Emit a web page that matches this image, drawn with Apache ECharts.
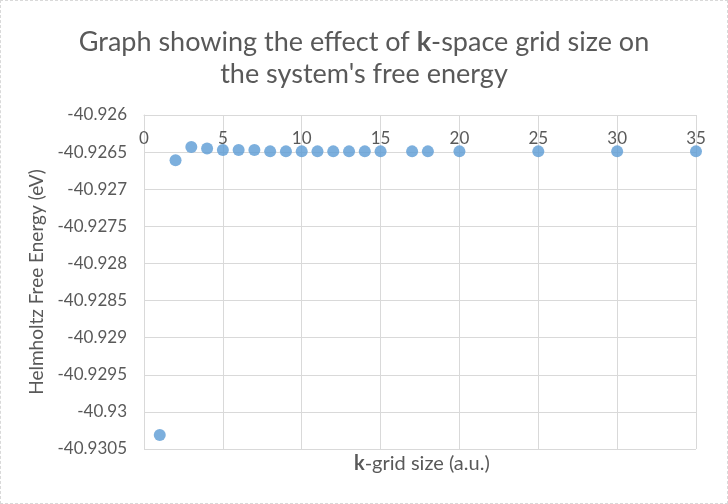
<!DOCTYPE html>
<html>
<head>
<meta charset="utf-8">
<script src="https://cdn.jsdelivr.net/npm/echarts@6/dist/echarts.min.js"></script>
<style>
  html, body { margin: 0; padding: 0; background: #fff; }
  #chart { width: 728px; height: 504px; box-sizing: border-box; border: 1px dashed #d9d9d9; }
</style>
</head>
<body>
<div id="chart"></div>
<script>
  // k-grid size and Helmholtz free energy (eV)
  const gridSize = [1, 2, 3, 4, 5, 6, 7, 8, 9, 10, 11, 12, 13, 14, 15, 17, 18, 20, 25, 30, 35];
  const freeEnergy = [
    -40.93031, -40.92661, -40.92643, -40.92645, -40.92647, -40.92647, -40.92647,
    -40.92649, -40.92649, -40.92649, -40.92649, -40.92649, -40.92649, -40.92649,
    -40.92649, -40.92649, -40.92649, -40.92649, -40.92649, -40.92649, -40.92649
  ];

  const textColor = "#595959";
  const lineColor = "#d9d9d9";
  const font = "Lato, 'Open Sans', sans-serif";

  const chart = echarts.init(document.getElementById("chart"));

  const option = {
    animation: false,
    textStyle: { fontFamily: font },
    title: {
      left: "center",
      top: 20,
      text: "{n|Graph showing the effect of }{b|k}{n|-space grid size on}\n{n|the system's free energy}",
      textStyle: {
        fontWeight: "normal",
        rich: {
          n: { fontSize: 27, color: textColor, fontFamily: font, fontWeight: "normal", lineHeight: 32 },
          b: { fontSize: 27, color: textColor, fontFamily: font, fontWeight: "bold", lineHeight: 32 },
        },
      },
    },
    grid: { left: 143, top: 114, width: 552, height: 334, containLabel: false },
    xAxis: {
      type: "value",
      position: "top",
      min: 0,
      max: 35,
      interval: 5,
      axisLine: { show: true, lineStyle: { color: lineColor } },
      axisTick: { show: false },
      axisLabel: { inside: true, margin: 15, fontSize: 17, color: textColor, fontFamily: font },
      splitLine: { show: true, lineStyle: { color: lineColor } },
    },
    yAxis: {
      type: "value",
      min: -40.9305,
      max: -40.926,
      interval: 0.0005,
      name: "Helmholtz Free Energy (eV)",
      nameLocation: "middle",
      nameGap: 91,
      nameTextStyle: { fontSize: 19, color: textColor, fontFamily: font },
      axisLine: { show: true, lineStyle: { color: lineColor } },
      axisTick: { show: false },
      axisLabel: {
        margin: 17,
        fontSize: 17,
        color: textColor,
        fontFamily: font,
        formatter: (v) => String(parseFloat(v.toFixed(4))),
      },
      splitLine: { show: true, lineStyle: { color: lineColor } },
    },
    graphic: [
      {
        type: "text",
        left: 353,
        top: 453,
        style: {
          text: "{b|k}{n|-grid size (a.u.)}",
          rich: {
            n: { fontSize: 20, fill: textColor, fontFamily: font },
            b: { fontSize: 20, fill: textColor, fontFamily: font, fontWeight: "bold" },
          },
        },
      },
    ],
    series: [
      {
        type: "scatter",
        data: gridSize.map((x, i) => [x, freeEnergy[i]]),
        symbolSize: 12,
        itemStyle: { color: "#5b9bd5" },
      },
    ],
  };

  chart.setOption(option);
</script>
</body>
</html>
